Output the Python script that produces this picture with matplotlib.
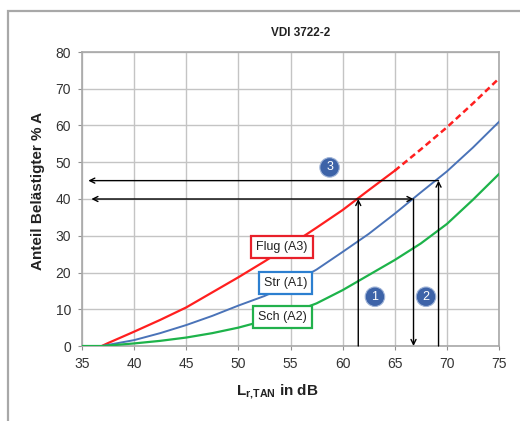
import matplotlib
matplotlib.use('Agg')

import matplotlib.pyplot as plt
from matplotlib.patches import Rectangle

plt.rcParams['font.family'] = ['Liberation Sans', 'DejaVu Sans']
plt.rcParams['mathtext.fontset'] = 'custom'
plt.rcParams['mathtext.bf'] = 'Liberation Sans:bold'
plt.rcParams['mathtext.rm'] = 'Liberation Sans'

# ---- data ----
x_flug = [36.9, 37.5, 40, 42.5, 45, 47.5, 50, 52.5, 55, 57.5, 60, 62.5, 65]
y_flug = [0, 0.8, 3.9, 7.1, 10.5, 14.6, 18.7, 23.0, 27.5, 32.2, 37.0, 42.4, 47.7]
x_flug_ext = [65, 67.5, 70, 72.5, 75]
y_flug_ext = [47.7, 53.5, 59.5, 66.0, 72.8]

x_str = [36.9, 40, 42.5, 45, 47.5, 50, 52.5, 55, 57.5, 60, 62.5, 65, 67.5, 70, 72.5, 75]
y_str = [0, 1.6, 3.5, 5.7, 8.2, 11.0, 13.6, 16.8, 20.8, 25.6, 30.5, 36.0, 41.8, 47.5, 54.0, 61.0]

x_sch = [35, 37, 40, 42.5, 45, 47.5, 50, 52.5, 55, 57.5, 60, 62.5, 65, 67.5, 70, 72.5, 75]
y_sch = [0, 0, 0.7, 1.4, 2.3, 3.5, 5.0, 6.9, 8.9, 11.6, 15.2, 19.3, 23.4, 27.9, 33.2, 39.8, 46.8]

# arrows: (start, end, style)
arrows = [
    ((61.5, 0), (61.5, 40), '->'),
    ((35.9, 40), (66.8, 40), '<->'),
    ((66.8, 40), (66.8, 0), '->'),
    ((69.2, 0), (69.2, 45), '->'),
    ((69.2, 45), (35.6, 45), '->'),
]
markers = [("1", 63.1, 13.4), ("2", 68.0, 13.4), ("3", 58.75, 48.6)]
labels = [("Flug (A3)", 54.2, 26.9, "#e8202a"),
          ("Str (A1)", 54.5, 17.2, "#2c7fd0"),
          ("Sch (A2)", 54.2, 8.0, "#22b14c")]

fig = plt.figure(figsize=(5.2, 4.21), dpi=100)
ax = fig.add_axes([82 / 520, 75 / 421, 417 / 520, 294 / 421])

# outer frame
fig.patches.append(Rectangle((8 / 520, -0.02), 1.0, (410 / 421) + 0.02,
                             transform=fig.transFigure, fill=False,
                             edgecolor="#a8a8a8", lw=1.6))

ax.plot(x_flug, y_flug, color="#ff1f1f", lw=1.6, zorder=3)
ax.plot(x_flug_ext, y_flug_ext, color="#ff1f1f", lw=1.8, ls=(0, (2.5, 1.5)), zorder=3)
ax.plot(x_str, y_str, color="#4a73b8", lw=1.4, zorder=3)
ax.plot(x_sch, y_sch, color="#1db34a", lw=1.6, zorder=3)

for (x0, y0), (x1, y1), style in arrows:
    ax.annotate("", xy=(x1, y1), xytext=(x0, y0),
                arrowprops=dict(arrowstyle=style, color="black", lw=1.0,
                                shrinkA=0, shrinkB=0, mutation_scale=9),
                zorder=4)

for txt, x, y in markers:
    ax.text(x, y, txt, ha="center", va="center", color="white", fontsize=9,
            zorder=5,
            bbox=dict(boxstyle="circle,pad=0.3", facecolor="#3d63a8",
                      edgecolor="#9fb4d8", lw=0.8))

for txt, x, y, c in labels:
    ax.text(x, y, txt, ha="center", va="center", color="#222222", fontsize=9,
            zorder=5,
            bbox=dict(boxstyle="square,pad=0.4", facecolor="white",
                      edgecolor=c, lw=1.6))

ax.set_xlim(35, 75)
ax.set_ylim(0, 80)
ax.set_xticks(range(35, 76, 5))
ax.set_yticks(range(0, 81, 10))
ax.grid(True, color="#c4c4c4", lw=1.0)
ax.set_axisbelow(True)
for s in ax.spines.values():
    s.set_color("#a8a8a8")
    s.set_linewidth(1.2)
ax.tick_params(length=3, pad=5, color="#909090", labelsize=10, labelcolor="#333333")

fig.text(301 / 520, 1 - 33 / 421, "VDI 3722-2", ha="center", va="center",
         fontsize=8.5, fontweight="bold", color="#222222")
fig.text(38 / 520, 1 - 191 / 421, "Anteil Belästigter % A", rotation=90,
         ha="center", va="center", fontsize=11, fontweight="bold", color="#222222")
fig.text(277 / 520, 1 - 392 / 421, r"$\mathbf{L_{r{,}TAN}}$ in dB", ha="center",
         va="center", fontsize=11, fontweight="bold", color="#222222")

plt.savefig("out.png", dpi=100)
plt.close()
